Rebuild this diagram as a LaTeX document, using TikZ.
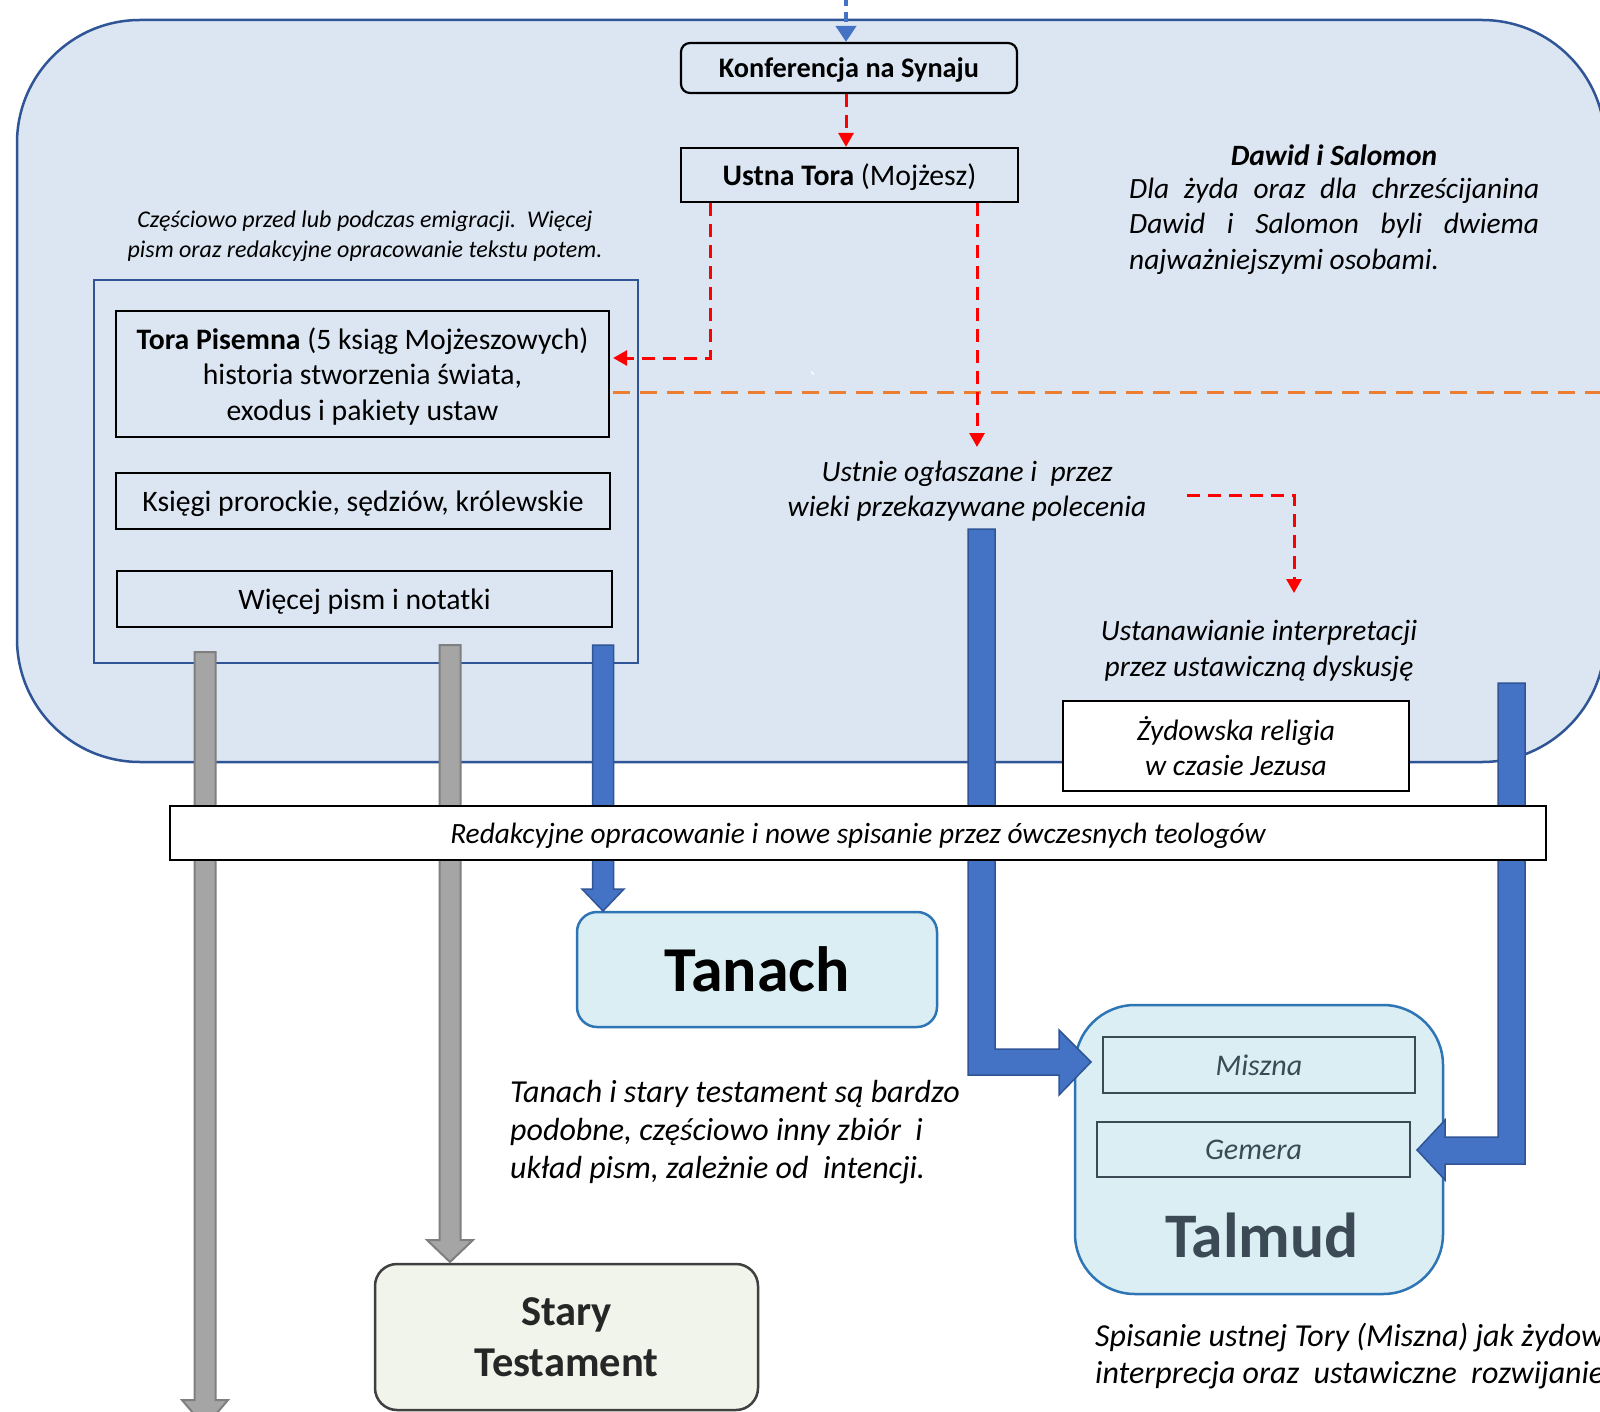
\documentclass[tikz,border=0pt]{standalone}
\usepackage{fontspec}
\setmainfont{Carlito}
\usetikzlibrary{arrows.meta,calc}
\definecolor{bgblue}{HTML}{DCE6F2}
\definecolor{frameblue}{HTML}{2F5597}
\definecolor{arrblue}{HTML}{4472C4}
\definecolor{orng}{HTML}{ED7D31}
\definecolor{grayfill}{HTML}{A5A5A5}
\definecolor{grayline}{HTML}{7F7F7F}
\definecolor{cyanfill}{HTML}{DAEEF3}
\definecolor{cyanline}{HTML}{2E75B6}
\definecolor{slate}{HTML}{3B4A55}
\definecolor{greenfill}{HTML}{F0F4EA}
\definecolor{darkline}{HTML}{404040}
\definecolor{darktext}{HTML}{262626}
\newcommand\fs[2]{\fontsize{#1}{#2}\selectfont}
\newcommand\vblockarrow[7]{% style, x, ytop, ybase, ytip, half shaft, half head
  \path[#1] (#2-#6,#3) -- (#2+#6,#3) -- (#2+#6,#4) -- (#2+#7,#4) -- (#2,#5) -- (#2-#7,#4) -- (#2-#6,#4) -- cycle;}
\begin{document}
\begin{tikzpicture}[x=1pt,y=-1pt,
  txt/.style={inner sep=0pt, align=center},
  plainbox/.style={draw=black, line width=2.2pt, inner sep=0pt, align=center, text depth=0pt},
  reddash/.style={draw=red, line width=3pt, dash pattern=on 13pt off 8pt, -{Triangle[length=14pt,width=15pt]}},
  bluedash/.style={draw=arrblue, line width=4.5pt, dash pattern=on 10pt off 6pt, -{Triangle[length=16pt,width=20pt]}},
  orangedash/.style={draw=orng, line width=3pt, dash pattern=on 17pt off 10pt},
  grayarrow/.style={fill=grayfill, draw=grayline, line width=2pt},
  bluearrow/.style={fill=arrblue, draw=frameblue, line width=1.5pt},
  cyanbox/.style={draw=cyanline, fill=cyanfill, line width=2.5pt, inner sep=0pt}]
\useasboundingbox (0,0) rectangle (1600,1412);
\fill[white] (0,0) rectangle (1600,1412);

% background frame
\path[draw=frameblue, fill=bgblue, line width=2.5pt, rounded corners=123pt] (17,20) rectangle (1605,762);
\draw[frameblue, line width=2.5pt] (94,280) rectangle (638,663);

% top boxes
\node[plainbox, rounded corners=9pt, minimum width=336pt, minimum height=50pt, font=\bfseries\fs{28.3}{33}] (konf) at (849,68) {Konferencja na Synaju};
\node[plainbox, minimum width=337pt, minimum height=54pt, font=\fs{29.8}{35}] (ustna) at (849.5,175) {\textbf{Ustna Tora} (Mojżesz)};

% left column
\node[txt, font=\itshape\fs{24}{29.5}] (note1) at (365,236) {Częściowo przed lub podczas emigracji.\ \ Więcej\\pism oraz redakcyjne opracowanie tekstu potem.};
\node[plainbox, minimum width=493pt, minimum height=126pt, font=\fs{29.7}{35.7}] (tora) at (362.5,374) {\textbf{Tora Pisemna} (5 ksiąg Mojżeszowych)\\historia stworzenia świata,\\exodus i pakiety ustaw};
\node[plainbox, minimum width=494pt, minimum height=56pt, font=\fs{29.7}{35}] (ksiegi) at (363,501) {Księgi prorockie, sędziów, królewskie};
\node[plainbox, minimum width=495pt, minimum height=56pt, font=\fs{29.7}{35}] (wiecej) at (364.5,599) {Więcej pism i notatki};

% right texts
\node[txt, font=\bfseries\itshape\fs{29.5}{35}] (dawid) at (1334,155) {Dawid i Salomon};
\node[txt, anchor=north west, align=left, font=\itshape\fs{29.4}{35.2}] (dawidtxt) at (1129,178) {\makebox[410pt][s]{Dla żyda oraz dla chrześcijanina}\\\makebox[410pt][s]{Dawid i Salomon byli dwiema}\\najważniejszymi osobami.};
\node[txt, font=\itshape\fs{29.5}{35.7}] (ustnie) at (967,491) {Ustnie ogłaszane i\ \ przez\\wieki przekazywane polecenia};
\node[txt, font=\itshape\fs{29.5}{35.7}] (ustan) at (1259,651) {Ustanawianie interpretacji\\przez ustawiczną dyskusję};
\node[txt, text=white, font=\fs{24}{24}] (tick) at (812,380) {\textasciigrave};

% dashed connectors
\draw[bluedash] (846,-4) -- (konf.north -| 846,0);
\draw[reddash] (konf.south -| 846,0) -- (ustna.north -| 846,0);
\draw[reddash] (ustna.south -| 710,0) |- ($(tora.east)+(3,-16)$);
\draw[orangedash] ($(tora.east)+(3,18)$) -- (1605,392);
\draw[reddash] (ustna.south -| 977,0) -- (977,447);
\coordinate (elbow) at (1187,495);
\draw[reddash] (elbow) -| (1294,593);

% lower boxes
\node[cyanbox, rounded corners=20pt, minimum width=360pt, minimum height=115pt, font=\bfseries\fs{64}{72}] (tanach) at (757,969.5) {Tanach};
\node[cyanbox, rounded corners=60pt, minimum width=368pt, minimum height=289pt] (talmud) at (1259,1149.5) {};
\node[txt, text=slate, font=\bfseries\fs{63.5}{72}] (talmudlbl) at (1262,1235) {Talmud};
\node[draw=slate, line width=2pt, inner sep=0pt, minimum width=312pt, minimum height=56pt, text=slate, font=\itshape\fs{30}{34}] (miszna) at (1259,1065) {Miszna};
\node[draw=slate, line width=2pt, inner sep=0pt, minimum width=313pt, minimum height=55pt, text=slate, font=\itshape\fs{30}{34}] (gemera) at (1253.5,1149.5) {Gemera};
\node[draw=darkline, fill=greenfill, line width=2.5pt, rounded corners=22pt, minimum width=383pt, minimum height=146pt, text=darktext, align=center, inner sep=0pt, font=\bfseries\fs{42.5}{51}] (stary) at (566.5,1337) {Stary\\Testament};

\node[txt, anchor=west, align=left, font=\itshape\fs{32}{37.7}] (tnote) at (510,1132) {Tanach i stary testament są bardzo\\podobne, częściowo inny zbiór\ \ i\\układ pism, zależnie od\ \ intencji.};
\node[txt, anchor=west, align=left, font=\itshape\fs{32}{37.7}] (mnote) at (1095,1356) {Spisanie ustnej Tory (Miszna) jak żydow\\interprecja oraz\ \ ustawiczne\ \ rozwijanie};

% block arrows
\vblockarrow{grayarrow}{205}{652}{1400}{1427}{10.5}{23}
\vblockarrow{grayarrow}{450}{645}{1240}{1262}{10.5}{23}
\vblockarrow{bluearrow}{603}{645}{889}{911}{10.5}{21}
\path[bluearrow] (968,529) -- (995,529) -- (995,1049) -- (1059,1049) -- (1059,1030) -- (1091,1062) -- (1059,1095) -- (1059,1075) -- (968,1075) -- cycle;
\path[bluearrow] (1498,683) -- (1525,683) -- (1525,1164) -- (1445,1164) -- (1445,1180) -- (1417,1150) -- (1445,1120) -- (1445,1137) -- (1498,1137) -- cycle;

% boxes on top
\node[plainbox, fill=white, minimum width=346pt, minimum height=90pt, font=\itshape\fs{29.5}{35.7}] (zyd) at (1236,746) {Żydowska religia\\w czasie Jezusa};
\node[plainbox, fill=white, minimum width=1376pt, minimum height=54pt, font=\itshape\fs{29.4}{34}] (redak) at (858,833) {Redakcyjne opracowanie i nowe spisanie przez ówczesnych teologów};
\end{tikzpicture}
\end{document}
